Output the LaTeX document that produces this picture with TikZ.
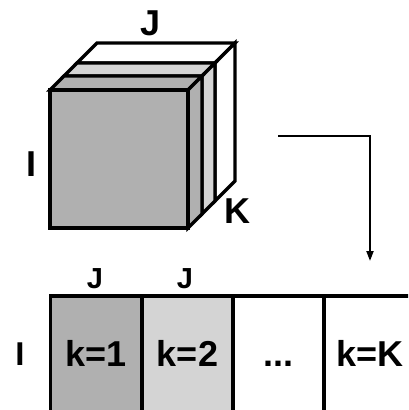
\documentclass[tikz,border=0pt]{standalone}
\usepackage{fontspec}
\setmainfont{Liberation Sans}
\usetikzlibrary{arrows.meta}
\definecolor{darkg}{gray}{0.69}
\definecolor{lightg}{gray}{0.83}
\begin{document}
\begin{tikzpicture}[x=1pt,y=-1pt,line join=miter,
  edge/.style={draw=black,line width=3.2pt},
  cell/.style={edge,rectangle,inner sep=0pt,minimum width=91pt,minimum height=128pt},
  biglbl/.style={inner sep=0pt,anchor=base,font=\bfseries\fontsize{36}{40}\selectfont},
  midlbl/.style={inner sep=0pt,anchor=base,font=\bfseries\fontsize{29}{32}\selectfont},
  flow/.style={draw=black,line width=2pt,-{Triangle[length=10pt,width=7pt]}}]
\useasboundingbox (0,0) rectangle (408,410);
\clip (0,0) rectangle (408,410);
% cube slabs, back to front
\foreach \a/\b/\c in {27/47/white,14/27/lightg,0/14/darkg}{
  \draw[edge,fill=\c] ({50+\a},{90-\a}) -- ({188+\a},{90-\a}) -- ({188+\b},{90-\b}) -- ({50+\b},{90-\b}) -- cycle;
  \draw[edge,fill=\c] ({188+\a},{90-\a}) -- ({188+\b},{90-\b}) -- ({188+\b},{228-\b}) -- ({188+\a},{228-\a}) -- cycle;
}
\node[edge,fill=darkg,rectangle,inner sep=0pt,minimum size=138pt] (front) at (119,159) {};
% cube labels
\node[biglbl] (cJ) at (151,35) {J};
\node[biglbl] (cI) at (32,176) {I};
\node[biglbl] (cK) at (237,223) {K};
% arrow
\coordinate (astart) at (278,136);
\coordinate (aend) at (370,261);
\draw[flow] (astart) -| (aend);
% unfolded row
\node[cell,fill=darkg] (c1) at (96,360) {};
\node[cell,fill=lightg] (c2) at (187.5,360) {};
\node[cell,fill=white] (c3) at (278.5,360) {};
\node[cell,fill=white] (c4) at (370,360) {};
\node[biglbl] (t1) at (c1.center|-0,366) {k=1};
\node[biglbl] (t2) at (c2.center|-0,366) {k=2};
\node[biglbl] (t3) at (c3.center|-0,366) {...};
\node[biglbl] (t4) at (c4.center|-0,366) {k=K};
\node[midlbl] (rJ1) at (95,288) {J};
\node[midlbl] (rJ2) at (185,288) {J};
\node[midlbl,font=\bfseries\fontsize{33}{36}\selectfont] (rI) at (20,365) {I};
\end{tikzpicture}
\end{document}
